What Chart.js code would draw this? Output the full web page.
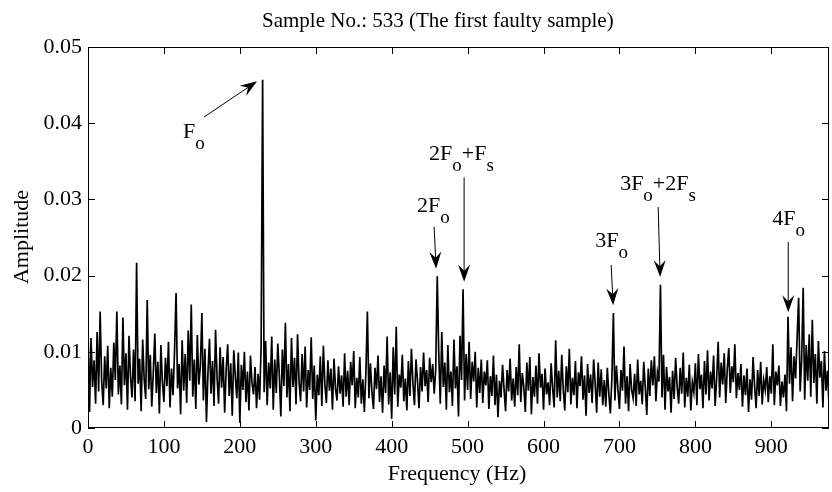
<!DOCTYPE html>
<html>
<head>
<meta charset="utf-8">
<script src="https://cdn.jsdelivr.net/npm/chart.js@4.4.1/dist/chart.umd.min.js"></script>
<style>
  html, body { margin: 0; padding: 0; background: #fff; }
  #wrap { width: 832px; height: 492px; }
</style>
</head>
<body>
<div id="wrap"><canvas id="spectrum"></canvas></div>
<script>
// Spectrum samples, 2 Hz apart starting at 0 Hz. Amplitude in units of 1e-3.
const freqStep = 2;
const amplitudeMilli = [
  13.2, 2.1, 11.8, 5.4, 8.9, 3.2, 12.6, 4.8, 15.3, 6.1,
  3.0, 9.4, 5.2, 10.8, 2.6, 7.9, 4.1, 11.2, 6.3, 15.3,
  4.4, 8.2, 3.1, 14.5, 5.6, 9.8, 2.4, 12.1, 6.7, 4.0,
  10.3, 3.5, 21.7, 5.8, 9.1, 2.2, 11.6, 6.4, 3.8, 16.8,
  5.1, 9.6, 2.8, 7.3, 12.4, 4.6, 8.7, 1.9, 10.9, 6.0,
  3.4, 9.2, 5.5, 11.3, 2.7, 7.8, 4.3, 10.1, 17.7, 5.2,
  8.4, 1.8, 11.5, 4.9, 9.7, 3.3, 12.8, 6.2, 16.2, 4.1,
  9.0, 2.5, 12.2, 5.7, 8.1, 15.1, 3.6, 10.4, 0.8, 7.2,
  11.7, 4.5, 8.8, 2.9, 12.9, 6.6, 3.2, 10.6, 5.3, 9.3,
  2.0, 7.7, 11.0, 4.2, 8.5, 1.6, 10.2, 6.8, 3.9, 9.9,
  0.7, 8.3, 5.0, 10.0, 3.4, 7.4, 2.3, 9.5, 5.9, 4.4,
  8.0, 2.6, 7.1, 3.7, 10.5, 45.7, 4.7, 11.4, 3.0, 8.6,
  5.2, 12.0, 2.4, 9.0, 4.6, 11.1, 6.9, 1.5, 10.3, 5.5,
  13.8, 4.0, 8.4, 2.2, 11.8, 5.4, 9.2, 3.1, 12.3, 6.1,
  3.5, 9.7, 4.8, 10.7, 2.7, 7.6, 5.0, 11.9, 3.8, 8.2,
  1.0, 7.0, 4.3, 9.4, 2.9, 10.8, 5.7, 3.3, 8.9, 4.9,
  7.8, 2.4, 9.1, 5.2, 3.6, 8.1, 4.5, 6.9, 2.8, 9.8,
  4.1, 7.5, 3.0, 8.7, 5.6, 10.1, 2.6, 6.6, 4.0, 9.3,
  3.2, 6.4, 2.1, 7.2, 15.3, 3.9, 8.5, 4.7, 2.5, 7.9,
  5.1, 9.5, 3.4, 6.8, 2.0, 8.2, 4.6, 12.0, 3.1, 7.3,
  1.2, 10.6, 4.4, 13.3, 2.8, 7.0, 5.3, 9.6, 3.5, 6.5,
  2.3, 8.8, 4.2, 10.4, 5.8, 3.0, 9.0, 6.2, 2.6, 8.0,
  4.8, 9.9, 5.5, 7.6, 3.4, 9.2, 6.0, 8.4, 4.5, 7.7,
  19.9, 9.8, 3.2, 12.6, 5.4, 8.6, 2.4, 10.9, 4.7, 7.4,
  2.9, 11.6, 5.2, 8.1, 1.5, 12.1, 6.3, 18.2, 3.6, 9.7,
  5.0, 11.3, 3.8, 8.7, 6.1, 10.0, 2.7, 7.9, 4.6, 9.0,
  3.3, 7.4, 5.6, 8.9, 2.5, 6.8, 4.2, 9.5, 3.0, 7.0,
  1.4, 6.2, 4.0, 8.3, 5.1, 2.2, 7.6, 4.8, 9.1, 3.6,
  6.5, 2.8, 8.0, 4.3, 11.0, 3.4, 7.2, 5.4, 2.1, 8.6,
  4.9, 9.3, 1.8, 6.7, 4.1, 8.2, 3.2, 9.8, 5.3, 7.1,
  2.4, 7.8, 4.4, 6.0, 3.0, 8.5, 5.2, 2.7, 11.5, 4.0,
  7.5, 3.5, 9.6, 5.0, 2.3, 8.1, 4.7, 10.4, 3.1, 6.6,
  4.3, 8.8, 2.6, 7.3, 5.5, 9.4, 3.7, 6.9, 1.6, 8.4,
  4.6, 7.0, 3.3, 9.0, 5.8, 2.0, 8.6, 4.1, 7.7, 3.0,
  6.3, 2.8, 7.9, 4.5, 1.9, 6.4, 15.1, 3.6, 8.2, 5.1,
  2.5, 7.6, 4.9, 10.7, 3.2, 6.8, 2.2, 8.4, 5.0, 3.9,
  7.1, 2.9, 9.0, 4.4, 6.2, 3.1, 8.7, 5.3, 1.7, 7.8,
  4.2, 8.9, 5.6, 9.4, 3.5, 7.3, 6.1, 18.8, 4.0, 9.6,
  2.4, 8.0, 4.8, 6.7, 2.0, 7.5, 3.8, 9.2, 5.4, 3.2,
  7.9, 4.5, 9.9, 2.7, 6.6, 4.1, 8.3, 2.3, 6.0, 4.7,
  8.5, 3.0, 9.7, 5.1, 7.0, 2.6, 8.8, 4.4, 10.2, 3.6,
  7.4, 5.2, 9.5, 2.9, 6.5, 11.3, 4.0, 8.6, 5.7, 9.8,
  3.3, 7.7, 10.5, 4.6, 8.1, 6.0, 11.0, 3.9, 7.2, 5.0,
  8.4, 2.8, 6.9, 4.3, 7.8, 2.1, 6.4, 3.7, 9.3, 5.5,
  2.6, 7.6, 4.2, 8.7, 3.1, 6.3, 5.0, 8.0, 3.4, 6.8,
  4.5, 11.0, 3.0, 7.4, 5.6, 8.2, 2.9, 6.1, 4.0, 7.0,
  2.2, 14.6, 5.8, 10.6, 3.5, 9.4, 6.5, 11.8, 17.1, 4.8,
  9.0, 18.4, 3.7, 10.9, 6.2, 12.3, 4.1, 14.2, 5.9, 9.7,
  3.2, 11.4, 6.6, 8.8, 2.7, 10.1, 4.9, 7.5, 3.0
];
const frequencies = amplitudeMilli.map((_, i) => i * freqStep);

const xTickValues = [0, 100, 200, 300, 400, 500, 600, 700, 800, 900];
const xTickLabels = ['0', '100', '200', '300', '400', '500', '600', '700', '800', '900'];
const yTickValues = [0, 10, 20, 30, 40, 50];
const yTickLabels = ['0', '0.01', '0.02', '0.03', '0.04', '0.05'];

const chartTitle = 'Sample No.: 533 (The first faulty sample)';
const xTitle = 'Frequency (Hz)';
const yTitle = 'Amplitude';

// labelled harmonics: text parts (second item = subscript), text spot, arrow tail and head (Hz, amplitude x1e-3)
const annotations = [
  { parts: [['F', 0], ['o', 1]], at: [125.2, 38.1], from: [152.8, 40.8], to: [222.7, 45.5] },
  { parts: [['2F', 0], ['o', 1], ['+F', 0], ['s', 1]], at: [449.3, 35.2], from: [495.4, 32.9], to: [495.4, 19.2] },
  { parts: [['2F', 0], ['o', 1]], at: [433.5, 28.3], from: [455.9, 26.4], to: [458.5, 20.9] },
  { parts: [['3F', 0], ['o', 1]], at: [668.0, 23.7], from: [689.1, 21.4], to: [691.7, 16.1] },
  { parts: [['3F', 0], ['o', 1], ['+2F', 0], ['s', 1]], at: [700.9, 31.2], from: [751.0, 29.0], to: [753.6, 19.8] },
  { parts: [['4F', 0], ['o', 1]], at: [901.2, 26.6], from: [922.3, 24.4], to: [922.3, 15.2] }
];

const serif = '"Liberation Serif", "Times New Roman", serif';

function drawArrow(ctx, x1, y1, x2, y2) {
  const ang = Math.atan2(y2 - y1, x2 - x1);
  const len = 17, half = 6, notch = 11;
  ctx.beginPath();
  ctx.moveTo(x1, y1);
  ctx.lineTo(x2 - Math.cos(ang) * notch, y2 - Math.sin(ang) * notch);
  ctx.stroke();
  ctx.save();
  ctx.translate(x2, y2);
  ctx.rotate(ang);
  ctx.beginPath();
  ctx.moveTo(0, 0);
  ctx.lineTo(-len, -half);
  ctx.lineTo(-notch, 0);
  ctx.lineTo(-len, half);
  ctx.closePath();
  ctx.fill();
  ctx.restore();
}

const overlay = {
  id: 'overlay',
  afterDraw(chart) {
    const { ctx, chartArea: a, scales: { x, y } } = chart;
    ctx.save();
    ctx.strokeStyle = '#000';
    ctx.fillStyle = '#000';
    ctx.lineWidth = 1;

    // axes box
    ctx.strokeRect(a.left + 0.5, a.top + 0.5, a.right - a.left - 1, a.bottom - a.top - 1);

    // inward ticks on all four sides
    const tl = 7;
    ctx.beginPath();
    xTickValues.forEach(v => {
      const px = Math.round(x.getPixelForValue(v)) + 0.5;
      ctx.moveTo(px, a.bottom); ctx.lineTo(px, a.bottom - tl);
      ctx.moveTo(px, a.top); ctx.lineTo(px, a.top + tl);
    });
    yTickValues.forEach(v => {
      const py = Math.round(y.getPixelForValue(v)) + 0.5;
      ctx.moveTo(a.left, py); ctx.lineTo(a.left + tl, py);
      ctx.moveTo(a.right, py); ctx.lineTo(a.right - tl, py);
    });
    ctx.stroke();

    // titles
    ctx.textBaseline = 'alphabetic';
    ctx.font = '21px ' + serif;
    ctx.textAlign = 'left';
    ctx.fillText(chartTitle, 262, 27);
    ctx.font = '22px ' + serif;
    ctx.textAlign = 'center';
    ctx.fillText(xTitle, 457, 480);
    ctx.save();
    ctx.translate(28, 237);
    ctx.rotate(-Math.PI / 2);
    ctx.fillText(yTitle, 0, 0);
    ctx.restore();

    // harmonic labels with arrows
    ctx.textAlign = 'left';
    annotations.forEach(an => {
      let cx = x.getPixelForValue(an.at[0]);
      const cy = y.getPixelForValue(an.at[1]);
      an.parts.forEach(([t, sub]) => {
        ctx.font = (sub ? '19px ' : '22px ') + serif;
        ctx.fillText(t, cx, sub ? cy + 11 : cy);
        cx += ctx.measureText(t).width;
      });
      drawArrow(ctx,
        x.getPixelForValue(an.from[0]), y.getPixelForValue(an.from[1]),
        x.getPixelForValue(an.to[0]), y.getPixelForValue(an.to[1]));
    });
    ctx.restore();
  }
};

new Chart(document.getElementById('spectrum').getContext('2d'), {
  type: 'line',
  data: {
    datasets: [{
      data: frequencies.map((f, i) => ({ x: f, y: amplitudeMilli[i] })),
      borderColor: '#000',
      borderWidth: 1.7,
      pointRadius: 0,
      tension: 0,
      fill: false
    }]
  },
  options: {
    responsive: true,
    maintainAspectRatio: false,
    animation: false,
    events: [],
    layout: { padding: { top: 47, right: 3, left: 0, bottom: 0 } },
    plugins: {
      legend: { display: false },
      tooltip: { enabled: false },
      title: { display: false }
    },
    scales: {
      x: {
        type: 'linear',
        min: 0,
        max: 976,
        grid: { display: false, drawTicks: false },
        border: { display: false },
        afterBuildTicks: s => { s.ticks = xTickValues.map(v => ({ value: v })); },
        afterFit: s => { s.height = 64; },
        ticks: {
          color: '#000',
          padding: 6,
          maxRotation: 0,
          autoSkip: false,
          font: { family: serif, size: 22 },
          callback: (v, i) => xTickLabels[i]
        }
      },
      y: {
        type: 'linear',
        min: 0,
        max: 50,
        grid: { display: false, drawTicks: false },
        border: { display: false },
        afterBuildTicks: s => { s.ticks = yTickValues.map(v => ({ value: v })); },
        afterFit: s => { s.width = 88; },
        ticks: {
          color: '#000',
          padding: 6,
          autoSkip: false,
          font: { family: serif, size: 22 },
          callback: (v, i) => yTickLabels[i]
        }
      }
    }
  },
  plugins: [overlay]
});
</script>
</body>
</html>
